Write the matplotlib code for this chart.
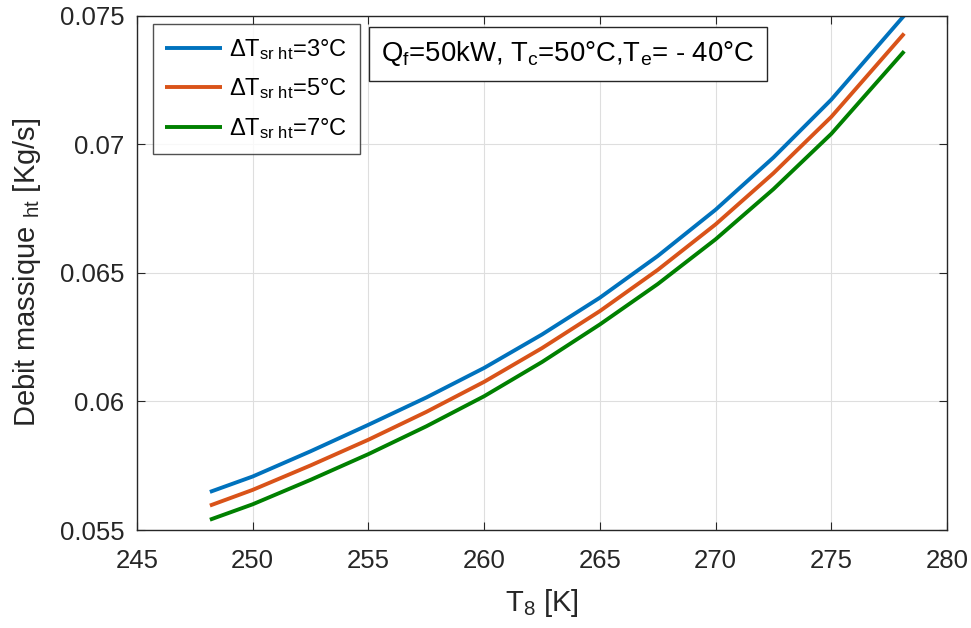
import matplotlib
matplotlib.use("Agg")
import matplotlib.pyplot as plt

plt.rcParams['font.family'] = ['Liberation Sans', 'DejaVu Sans']
plt.rcParams['mathtext.fontset'] = 'custom'
plt.rcParams['mathtext.rm'] = 'Liberation Sans'
plt.rcParams['mathtext.it'] = 'Liberation Sans'
plt.rcParams['mathtext.default'] = 'regular'

# Temperature T8 [K] and mass flow rate [kg/s] for three superheat values
t8 = [248.15, 250.0, 252.5, 255.0, 257.5, 260.0, 262.5, 265.0,
      267.5, 270.0, 272.5, 275.0, 278.15]
flow_dt3 = [0.05648, 0.05708, 0.05806, 0.05909, 0.06015, 0.06130, 0.06260, 0.06403,
            0.06565, 0.06745, 0.06948, 0.07173, 0.07500]
flow_dt5 = [0.05595, 0.05656, 0.05751, 0.05851, 0.05959, 0.06076, 0.06207, 0.06351,
            0.06511, 0.06688, 0.06887, 0.07106, 0.07430]
flow_dt7 = [0.05540, 0.05600, 0.05695, 0.05795, 0.05903, 0.06020, 0.06153, 0.06299,
            0.06456, 0.06630, 0.06825, 0.07040, 0.07361]

labels = [r'$\Delta T_{sr\ ht}$=3°C', r'$\Delta T_{sr\ ht}$=5°C', r'$\Delta T_{sr\ ht}$=7°C']
colors = ['#0072BD', '#D95319', '#008000']

xticks = [245, 250, 255, 260, 265, 270, 275, 280]
yticks = [0.055, 0.06, 0.065, 0.07, 0.075]
ytick_labels = ['0.055', '0.06', '0.065', '0.07', '0.075']

dark = '#262626'

fig = plt.figure(figsize=(9.71, 6.28), dpi=100)
ax = fig.add_axes([137 / 971, 98 / 628, 810 / 971, 514.5 / 628])

for y, lab, c in zip([flow_dt3, flow_dt5, flow_dt7], labels, colors):
    ax.plot(t8, y, color=c, lw=2.8, label=lab, solid_capstyle='butt',
            solid_joinstyle='round')

ax.set_xlim(245, 280)
ax.set_ylim(0.055, 0.075)
ax.set_xticks(xticks)
ax.set_yticks(yticks)
ax.set_yticklabels(ytick_labels)

ax.grid(True, color='#dedede', lw=0.8)
ax.set_axisbelow(True)
ax.tick_params(direction='in', length=6, width=0.8, colors=dark, labelsize=18.5,
               top=True, right=True)
ax.tick_params(axis='x', pad=14)
ax.tick_params(axis='y', pad=9)
for s in ax.spines.values():
    s.set_color(dark)
    s.set_linewidth(1.0)

ax.set_xlabel(r'$T_8$ [K]', fontsize=21, color=dark, labelpad=10)
ax.set_ylabel(r'Debit massique $_{ht}$ [Kg/s]', fontsize=21, color=dark, labelpad=12)

leg = ax.legend(loc='upper left', bbox_to_anchor=(15.5 / 810, 1 - 8.5 / 514.5),
                fontsize=17, frameon=True, fancybox=False, handlelength=2.4,
                handletextpad=0.3, borderpad=0.55, labelspacing=0.62,
                borderaxespad=0)
leg.get_frame().set_edgecolor(dark)
leg.get_frame().set_linewidth(1.0)
for t in leg.get_texts():
    t.set_color('black')

ax.text((381 - 137) / 810, 1 - 24 / 514.5,
        r'$Q_f$=50kW, $T_c$=50°C,$T_e$= - 40°C',
        transform=ax.transAxes, ha='left', va='top', fontsize=19.8, color='black',
        bbox=dict(boxstyle='square,pad=0.45', facecolor='white', edgecolor=dark, lw=1.0))

fig.savefig('out.png', dpi=100)
